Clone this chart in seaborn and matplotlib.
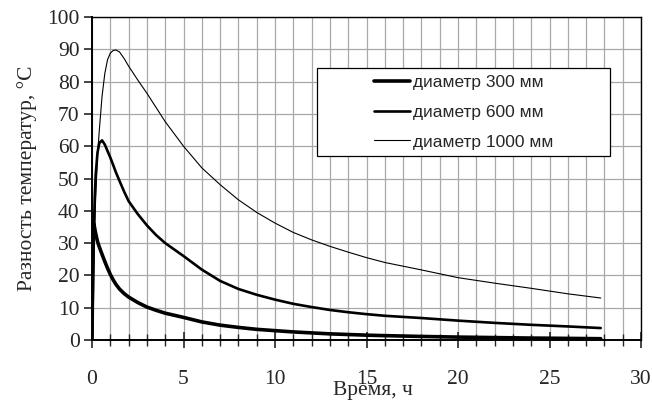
import pandas as pd
import seaborn as sns
import matplotlib.pyplot as plt
from matplotlib.patches import Rectangle
from matplotlib.ticker import MultipleLocator

# time, h
time_h = [0, 0.05, 0.1, 0.15, 0.2, 0.3, 0.4, 0.55, 0.7, 0.85, 1, 1.15, 1.3, 1.5,
          1.75, 2, 2.5, 3, 3.5, 4, 5, 6, 7, 8, 9, 10, 11, 12, 13, 14, 15, 16,
          18, 20, 22, 24, 26, 27.8]

# temperature difference, deg C
d300 = [0, 30, 36, 34.5, 33, 30.5, 28.8, 26.5, 24.3, 22.2, 20.3, 18.7, 17.3,
        15.8, 14.4, 13.3, 11.6, 10.2, 9.2, 8.3, 7.0, 5.6, 4.6, 3.9, 3.3, 2.9,
        2.5, 2.2, 1.9, 1.7, 1.5, 1.35, 1.1, 0.9, 0.75, 0.6, 0.5, 0.4]
d600 = [0, 15, 33, 44, 51, 58, 61, 61.8, 60.5, 58.5, 56.5, 54.3, 52, 49.3,
        46, 43, 39, 35.5, 32.5, 30, 26, 21.8, 18.3, 15.8, 14, 12.5, 11.2,
        10.2, 9.3, 8.6, 8.0, 7.5, 6.8, 6.0, 5.3, 4.7, 4.2, 3.7]
d1000 = [0, 12, 25, 35, 44, 57, 65, 75.5, 82.5, 86.8, 88.8, 89.6, 89.8, 89.2,
         87.2, 84.8, 80.5, 76.4, 72, 67.6, 60, 53.3, 48.1, 43.4, 39.5, 36.2,
         33.3, 31, 29, 27.2, 25.5, 24, 21.7, 19.3, 17.6, 16, 14.3, 13]

labels = ["диаметр 300 мм", "диаметр 600 мм", "диаметр 1000 мм"]
widths = [2.6, 1.9, 0.8]

sns.set_style("white")
plt.rcParams['font.family'] = ['Liberation Serif', 'DejaVu Serif']

fig = plt.figure(figsize=(6.52, 4.03), dpi=100)
ax = fig.add_axes([92 / 652, 1 - 340 / 403, 549 / 652, 323 / 403])

for lab, vals, lw in zip(labels, [d300, d600, d1000], widths):
    df = pd.DataFrame({"t": time_h, "dT": vals})
    sns.lineplot(data=df, x="t", y="dT", ax=ax, color="black", linewidth=lw,
                 label=lab, sort=False, zorder=3)

ax.set_xlim(0, 30)
ax.set_ylim(0, 100)
ax.xaxis.set_major_locator(MultipleLocator(5))
ax.xaxis.set_minor_locator(MultipleLocator(1))
ax.yaxis.set_major_locator(MultipleLocator(10))

ax.grid(True, which="both", axis="x", color="#a8a8a8", linewidth=0.9, zorder=0)
ax.grid(True, which="major", axis="y", color="#a8a8a8", linewidth=0.9, zorder=0)

for s in ax.spines.values():
    s.set_color("black")
    s.set_linewidth(1.0)
ax.spines["bottom"].set_linewidth(1.4)
ax.spines["left"].set_linewidth(1.4)

ax.tick_params(axis="x", which="major", direction="inout", length=11, width=1.2,
               pad=16, labelsize=15.5, bottom=True)
ax.tick_params(axis="x", which="minor", direction="inout", length=8, width=1.0,
               bottom=True)
ax.tick_params(axis="y", which="major", direction="out", length=6, width=1.2,
               pad=3, labelsize=15.5, left=True)

ax.set_xlabel("Время, ч", fontsize=15.5)
ax.xaxis.set_label_coords(0.512, -0.128)
ax.set_ylabel("Разность температур, °C", fontsize=15.5)
ax.yaxis.set_label_coords(-0.1, 0.5)

ax.add_patch(Rectangle((0.41, 0.5697), 0.5335, 0.272, transform=ax.transAxes,
                       facecolor="white", edgecolor="black", linewidth=0.9,
                       zorder=4))
leg = ax.legend(loc="center", bbox_to_anchor=(0.41 + 0.5335 / 2, 0.5697 + 0.136),
                frameon=False, handlelength=2.1, handletextpad=0.15,
                labelspacing=0.85, prop={"family": "Liberation Sans", "size": 12.5})
leg.set_zorder(5)

fig.savefig("out.png", dpi=100)
